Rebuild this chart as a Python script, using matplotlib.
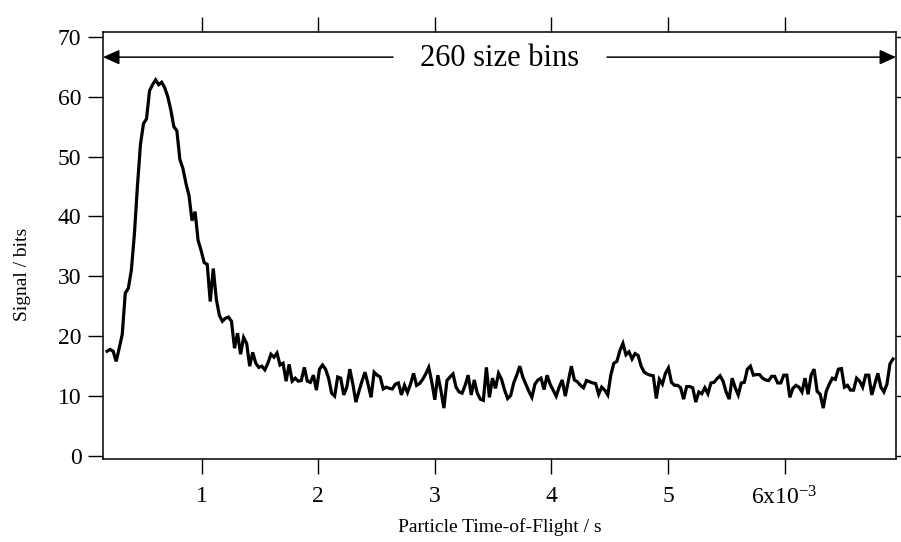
import numpy as np
import matplotlib
matplotlib.use("Agg")
from matplotlib import pyplot as plt

plt.rcParams["font.family"] = ["Liberation Serif", "DejaVu Serif"]
plt.rcParams["mathtext.fontset"] = "custom"
plt.rcParams["mathtext.rm"] = "Liberation Serif"
plt.rcParams["mathtext.it"] = "Liberation Serif:italic"

# time-of-flight range covered by the 260 size bins (s)
tof_start = 0.19e-3
tof_end = 6.93e-3
n_bins = 260

signal = [
    17.5, 17.8, 17.5, 15.8, 18.0, 20.3, 27.2, 28.0, 31.0, 37.0,
    45.0, 52.0, 55.5, 56.3, 61.0, 62.0, 62.8, 62.0, 62.4, 61.5,
    60.0, 57.8, 55.0, 54.3, 49.5, 48.0, 45.5, 43.5, 39.3, 40.8,
    36.0, 34.3, 32.3, 32.0, 25.8, 31.3, 26.2, 23.5, 22.5, 23.0,
    23.2, 22.5, 18.0, 20.5, 17.0, 19.8, 18.8, 15.0, 17.3, 15.5,
    14.8, 15.0, 14.4, 15.5, 17.0, 16.5, 17.2, 15.2, 15.5, 12.5,
    15.3, 12.5, 13.0, 12.5, 12.6, 14.8, 12.5, 12.3, 13.5, 11.0,
    14.5, 15.2, 14.5, 13.0, 10.5, 10.0, 13.2, 13.0, 10.2, 11.5,
    14.5, 12.0, 9.0, 10.8, 12.5, 14.0, 12.0, 9.8, 14.0, 13.5,
    13.2, 11.2, 11.5, 11.3, 11.2, 12.0, 12.2, 10.2, 11.8, 10.6,
    12.0, 13.8, 11.8, 12.1, 12.8, 13.7, 14.8, 12.4, 9.4, 13.5,
    11.0, 8.0, 12.6, 13.2, 13.7, 11.5, 10.7, 10.5, 11.8, 13.5,
    10.2, 12.7, 10.5, 9.5, 9.3, 14.8, 9.8, 13.0, 11.3, 13.8,
    12.8, 11.0, 9.6, 10.1, 12.2, 13.5, 15.0, 13.2, 12.0, 10.8,
    9.8, 12.0, 12.7, 13.0, 11.1, 13.5, 12.0, 11.0, 10.0, 11.5,
    12.7, 10.0, 12.5, 15.0, 12.7, 12.4, 11.8, 11.4, 12.6, 12.4,
    12.2, 12.1, 10.3, 11.5, 11.0, 10.2, 13.5, 15.5, 15.8, 17.6,
    18.8, 16.9, 17.4, 16.2, 17.1, 16.8, 15.0, 14.0, 13.7, 13.5,
    13.4, 9.6, 12.8, 12.0, 13.8, 14.7, 12.3, 11.8, 11.8, 11.4,
    9.5, 11.6, 11.6, 11.4, 9.0, 10.7, 10.4, 11.4, 10.4, 12.2,
    12.3, 12.9, 13.4, 12.5, 10.7, 9.5, 13.0, 11.4, 10.2, 12.2,
    12.3, 14.5, 15.0, 13.5, 13.6, 13.6, 13.0, 12.7, 12.6, 13.3,
    13.3, 12.2, 12.2, 13.5, 13.5, 9.8, 11.3, 11.8, 11.5, 10.7,
    13.0, 10.3, 13.5, 14.5, 10.8, 10.3, 8.0, 10.8, 12.0, 13.0,
    12.8, 14.5, 14.6, 11.5, 11.8, 11.0, 11.0, 13.0, 12.5, 11.5,
    13.5, 13.5, 10.2, 12.0, 13.8, 11.5, 10.7, 12.0, 15.4, 16.2,
]

x_ticks = [1e-3, 2e-3, 3e-3, 4e-3, 5e-3, 6e-3]
x_tick_labels = ["1", "2", "3", "4", "5", "6x10$^{-3}$"]
y_ticks = [0, 10, 20, 30, 40, 50, 60, 70]

tof = np.linspace(tof_start, tof_end, n_bins)

fig = plt.figure(figsize=(9.01, 5.42), dpi=100)
ax = fig.add_axes([0.1143, 0.1531, 0.9945 - 0.1143, 0.941 - 0.1531])

ax.plot(tof, signal, color="black", lw=2.3, solid_joinstyle="miter")

ax.set_xlim(0.155e-3, 6.956e-3)
ax.set_ylim(-0.5, 70.8)

ax.set_xticks(x_ticks)
ax.set_xticklabels(x_tick_labels)
ax.set_yticks(y_ticks)

for side in ax.spines.values():
    side.set_linewidth(1.1)

ax.tick_params(axis="x", which="both", direction="out", length=10.5, width=1.0,
               top=True, labeltop=False, labelsize=17, pad=9)
ax.tick_params(axis="y", which="both", direction="out", length=10.5, width=1.0,
               right=True, labelright=False, labelsize=17, pad=5)

ax.set_xlabel("Particle Time-of-Flight / s", fontsize=14)
ax.set_ylabel("Signal / bits", fontsize=14)
ax.xaxis.set_label_coords(0.5, -0.138)
ax.yaxis.set_label_coords(-0.091, 0.433)

# "260 size bins" double arrow across the full axis
arrow_y = 66.6
head = dict(arrowstyle="-|>,head_length=1.0,head_width=0.45",
            mutation_scale=10, color="black", lw=1.1, shrinkA=0, shrinkB=0)
ax.annotate("", xy=(0.0, arrow_y), xytext=(0.3657, arrow_y),
            xycoords=("axes fraction", "data"), textcoords=("axes fraction", "data"),
            arrowprops=head)
ax.annotate("", xy=(1.0, arrow_y), xytext=(0.6356, arrow_y),
            xycoords=("axes fraction", "data"), textcoords=("axes fraction", "data"),
            arrowprops=head)
ax.text(0.5, arrow_y - 0.3, "260 size bins", transform=ax.get_yaxis_transform(),
        ha="center", va="center", fontsize=22)

fig.savefig("out.png", dpi=100)
